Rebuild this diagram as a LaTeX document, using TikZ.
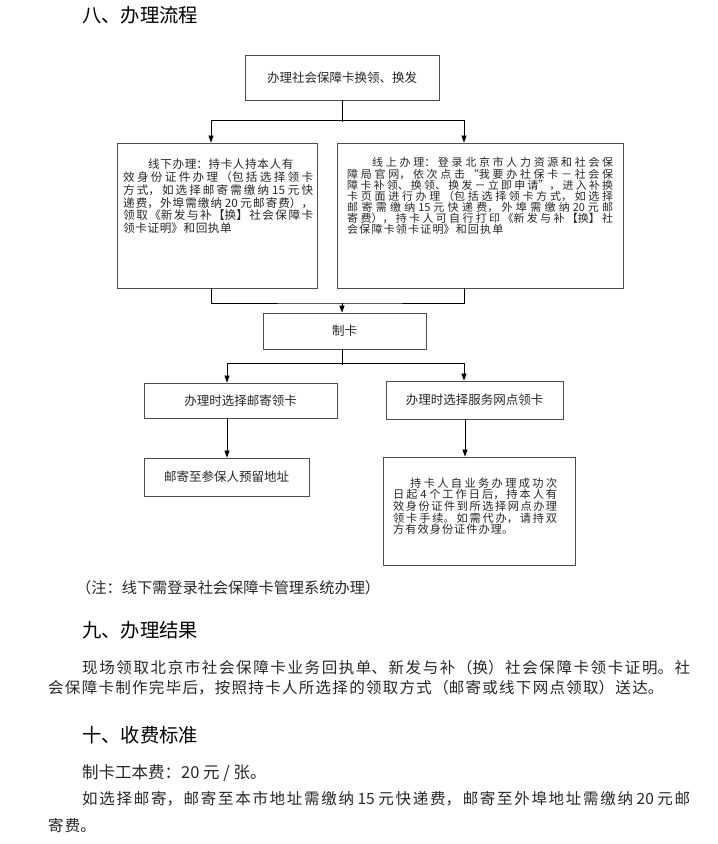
\documentclass[tikz,border=0pt]{standalone}
\usepackage{fontspec}
\setmainfont{Noto Sans CJK SC}
\usetikzlibrary{arrows.meta}
\XeTeXlinebreaklocale "zh"
\XeTeXlinebreakskip=0pt plus 1pt
\setlength\parindent{0pt}

\tikzset{
  box/.style={draw=black!70, line width=0.8pt, inner sep=0pt, text=black!85,
    font={\fontsize{12.5}{13}\selectfont}},
  boxtext/.style={inner sep=0pt, anchor=north west, align=justify, text=black!85},
  heading/.style={inner sep=0pt, anchor=west,
    font={\fontsize{19.3}{20}\selectfont\XeTeXlinebreakskip=0pt\relax}},
  body/.style={inner sep=0pt, anchor=north west, align=justify, text width=642pt, text=black!85},
  link/.style={line width=0.7pt},
  arr/.style={link, -{Triangle[length=7pt,width=5pt]}},
}

\begin{document}
\begin{tikzpicture}[x=1pt,y=-1pt]
   \useasboundingbox (0,0) rectangle (718,844);
   \node[heading] (title8) at (82,15) {八、办理流程};

   \node[box, minimum width=194pt, minimum height=45pt] (apply) at (342,77.5) {办理社会保障卡换领、换发};
   \node[box, minimum width=200pt, minimum height=145pt] (offline) at (217,215.5) {};
   \node[box, minimum width=286pt, minimum height=145pt] (online) at (480,215.5) {};
   \node[box, minimum width=163pt, minimum height=36pt] (makecard) at (344.5,331) {制卡};
   \node[box, minimum width=193pt, minimum height=35pt] (bymail) at (240.5,400.5) {办理时选择邮寄领卡};
   \node[box, minimum width=177pt, minimum height=38pt] (bysite) at (474.5,400) {办理时选择服务网点领卡};
   \node[box, minimum width=165pt, minimum height=38pt] (mailto) at (226.5,477) {邮寄至参保人预留地址};
   \node[box, minimum width=192pt, minimum height=108pt] (pickup) at (479,511) {};

   \node[boxtext, text width=190pt, font={\fontsize{11.6}{12.7}\selectfont\XeTeXlinebreakskip=0.6pt plus 5pt\relax}] (offtext) at (123,159) {\hspace*{25pt}线下办理：持卡人持本人有\newline 效身份证件办理（包括选择领卡\linebreak 方式，如选择邮寄需缴纳 15 元快\linebreak 递费，外埠需缴纳 20 元邮寄费），\linebreak 领取《新发与补【换】社会保障卡\linebreak 领卡证明》和回执单};
   \node[boxtext, text width=266pt, font={\fontsize{11}{11.1}\selectfont\XeTeXlinebreakskip=1.2pt plus 6pt\relax}] (ontext) at (347,157.4) {\hspace*{25pt}线上办理：登录北京市人力资源和社会保\linebreak 障局官网，依次点击“我要办社保卡－社会保\linebreak 障卡补领、换领、换发－立即申请”，进入补换\linebreak 卡页面进行办理（包括选择领卡方式，如选择\linebreak 邮寄需缴纳 15 元快递费，外埠需缴纳 20 元邮\linebreak 寄费），持卡人可自行打印《新发与补【换】社\linebreak 会保障卡领卡证明》和回执单};
   \node[boxtext, text width=164pt, font={\fontsize{11.2}{11.65}\selectfont\XeTeXlinebreakskip=1pt plus 5pt\relax}] (picktext) at (393,477.6) {\hspace*{17pt}持卡人自业务办理成功次\linebreak 日起 4 个工作日后，持本人有\linebreak 效身份证件到所选择网点办理\linebreak 领卡手续。如需代办，请持双\linebreak 方有效身份证件办理。};

   \coordinate (split1) at (342,120);
   \coordinate (join1) at (342,303);
   \coordinate (split2) at (342,363);
   \draw[link] (apply.south) -- ([yshift=-2pt]split1);
   \draw[arr] (split1) -| ([xshift=-6pt]offline.north);
   \draw[arr] (split1) -| ([xshift=-16pt]online.north);
   \draw[link] ([xshift=-6pt]offline.south) |- (join1) -| ([xshift=-16pt]online.south);
   \draw[arr] (join1) -- (join1 |- makecard.north);
   \draw[link] (split2 |- makecard.south) -- ([yshift=-2pt]split2);
   \draw[arr] (split2) -| ([xshift=-13.5pt]bymail.north);
   \draw[arr] (split2) -| ([xshift=-10.5pt]bysite.north);
   \draw[arr] ([xshift=-13.5pt]bymail.south) -- ([xshift=-13.5pt]bymail.south |- mailto.north);
   \draw[arr] ([xshift=-9.5pt]bysite.south) -- ([xshift=-9.5pt]bysite.south |- pickup.north);

   \node[inner sep=0pt, anchor=west, text=black!85, font={\fontsize{15.2}{16}\selectfont}] (note) at (76,588) {（注：线下需登录社会保障卡管理系统办理）};

   \node[heading] (title9) at (82,630) {九、办理结果};
   \node[body, font={\fontsize{15.5}{20.5}\selectfont\XeTeXlinebreakskip=1.3pt plus 5pt\relax}] (result) at (48,660) {\hspace*{34pt}现场领取北京市社会保障卡业务回执单、新发与补（换）社会保障卡领卡证明。社\linebreak 会保障卡制作完毕后，按照持卡人所选择的领取方式（邮寄或线下网点领取）送达。};

   \node[heading] (title10) at (82,735) {十、收费标准};
   \node[inner sep=0pt, anchor=west, text=black!85, font={\fontsize{16.5}{17}\selectfont}] (fee) at (82,773) {制卡工本费：20 元 / 张。};
   \node[body, font={\fontsize{15.5}{27}\selectfont\XeTeXlinebreakskip=1.3pt plus 5pt\relax}] (postfee) at (48,791) {\hspace*{34pt}如选择邮寄，邮寄至本市地址需缴纳 15 元快递费，邮寄至外埠地址需缴纳 20 元邮\linebreak 寄费。};
\end{tikzpicture}
\end{document}
